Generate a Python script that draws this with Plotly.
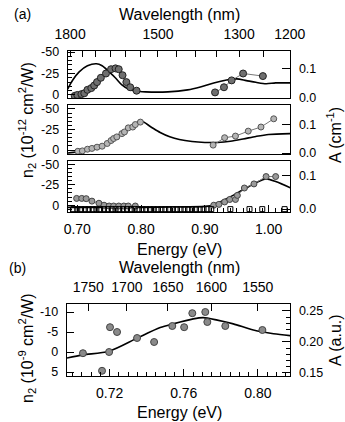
import plotly.graph_objects as go

HC = 1239.84  # eV*nm, photon energy <-> wavelength

# ---------------- panel (a), top sub-panel ----------------
p1_E = [0.696, 0.700, 0.7065, 0.711, 0.716, 0.722, 0.7265, 0.731, 0.737, 0.745, 0.753, 0.760, 0.765, 0.771, 0.777, 0.783, 0.793]
p1_n2 = [1, 0, -1, -2, -6, -8, -11, -15, -20, -25, -30, -31, -30, -23, -15, -9, -5]
p1b_E = [0.916, 0.930, 0.942, 0.960, 0.991]
p1b_n2 = [-3, -9, -17, -25, -22]
c1_E = [0.685, 0.693, 0.703, 0.716, 0.730, 0.739, 0.750, 0.760, 0.770, 0.780, 0.791, 0.807, 0.842, 0.873, 0.893, 0.914, 0.934, 0.950, 0.965, 0.980, 0.996, 1.011, 1.034]
c1_A = [0.029, 0.060, 0.088, 0.109, 0.116, 0.109, 0.088, 0.067, 0.043, 0.029, 0.022, 0.019, 0.019, 0.026, 0.036, 0.050, 0.060, 0.064, 0.058, 0.052, 0.047, 0.050, 0.050]

# ---------------- panel (a), middle sub-panel ----------------
p2_E = [0.701, 0.708, 0.716, 0.723, 0.731, 0.739, 0.747, 0.753, 0.757, 0.762, 0.770, 0.774, 0.780, 0.787, 0.791, 0.799]
p2_n2 = [1.5, 1, -1, -2, -3.5, -4.7, -8, -11.6, -14, -16, -20, -22, -27, -28, -31, -34]
p2b_E = [0.913, 0.931, 0.948, 0.968, 0.988, 1.008]
p2b_n2 = [-6, -15, -17, -23, -28, -38]
c2_E = [0.685, 0.700, 0.720, 0.740, 0.760, 0.780, 0.800, 0.815, 0.830, 0.845, 0.860, 0.880, 0.900, 0.920, 0.940, 0.960, 0.980, 1.000, 1.034]
c2_A = [0.000, 0.004, 0.016, 0.026, 0.052, 0.088, 0.112, 0.092, 0.072, 0.057, 0.047, 0.040, 0.037, 0.037, 0.041, 0.049, 0.058, 0.065, 0.068]

# ---------------- panel (a), bottom sub-panel ----------------
p3_E = [0.699, 0.707, 0.714, 0.723, 0.734, 0.742, 0.750, 0.757, 0.765, 0.773, 0.780, 0.791]
p3_n2 = [-8.3, -8.3, -8, -5, -2.4, 0, 1, 1, 1, 1, 1, 1]
p3b_E = [0.914, 0.922, 0.931, 0.939, 0.948, 0.951, 0.962, 0.977, 0.996, 1.011]
p3b_n2 = [0, -1, -4, -7, -7, -12, -21, -26, -35, -35]
c3_E = [0.685, 0.750, 0.800, 0.850, 0.900, 0.915, 0.930, 0.945, 0.960, 0.980, 0.996, 1.011, 1.034]
c3_A = [0.005, 0.005, 0.005, 0.006, 0.008, 0.013, 0.027, 0.042, 0.058, 0.079, 0.091, 0.083, 0.064]
sq_E = [0.694, 0.700, 0.706, 0.712, 0.718, 0.724, 0.730, 0.736, 0.742, 0.748, 0.754, 0.760, 0.766, 0.772,
        0.778, 0.784, 0.790, 0.796, 0.802, 0.808, 0.814, 0.820, 0.826, 0.832, 0.838, 0.844, 0.850, 0.856,
        0.862, 0.868, 0.874, 0.880, 0.886, 0.892, 0.898, 0.904, 0.910, 0.940, 0.970, 0.990, 1.025]
sq_n2 = [4.8] * len(sq_E)

# ---------------- panel (b) ----------------
pb_E = [0.7056, 0.7159, 0.7197, 0.7202, 0.7240, 0.7348, 0.7440, 0.7538, 0.7602, 0.7646, 0.7716, 0.7727, 0.7824, 0.8024]
pb_n2 = [0.3, 4.7, 0, -6.2, -5, -3.5, -2.5, -6.5, -6.2, -9.7, -10, -7.5, -6.5, -5.5]
cb_E = [0.697, 0.7056, 0.7197, 0.7348, 0.7473, 0.7543, 0.7651, 0.7705, 0.7781, 0.7867, 0.7975, 0.8084, 0.8175]
cb_A = [0.174, 0.179, 0.185, 0.206, 0.223, 0.229, 0.237, 0.239, 0.235, 0.229, 0.219, 0.213, 0.210]

# ---------------- tick labels ----------------
wl_a = [1800, 1750, 1700, 1650, 1600, 1550, 1500, 1450, 1400, 1350, 1300, 1250, 1200]
wl_a_text = ['1800', '', '', '', '', '', '1500', '', '', '', '1300', '', '1200']
wl_b = [1750, 1700, 1650, 1600, 1550]
wl_b_text = ['1750', '1700', '1650', '1600', '1550']
e_a_ticks = [0.70, 0.80, 0.90, 1.00]
e_a_text = ['0.70', '0.80', '0.90', '1.00']
e_b_ticks = [0.72, 0.76, 0.80]
e_b_text = ['0.72', '0.76', '0.80']
n2_a_ticks = [-50, -25, 0]
n2_a_text = ['-50', '-25', '0']
A_a_ticks = [0.0, 0.1]
A_a_text = ['0.0', '0.1']
n2_b_ticks = [-10, -5, 0, 5]
n2_b_text = ['-10', '-5', '0', '5']
A_b_ticks = [0.15, 0.20, 0.25]
A_b_text = ['0.15', '0.20', '0.25']

W, H = 345, 422
FONT = "Liberation Sans, Arial, sans-serif"
TICKF = dict(family=FONT, size=14, color="black")
TICKF_Y = dict(family=FONT, size=12.5, color="black")
LW = 1.4


def px_x(a, b):
    return [a / W, b / W]


def px_y(top, bottom):
    return [1 - bottom / H, 1 - top / H]


XA = px_x(68, 290)
XB = px_x(67, 290)
D1 = px_y(51, 98)
D2 = px_y(105, 154)
D3 = px_y(161, 212)
DB = px_y(304, 376)
XR_A = [0.6855, 1.0335]
XR_B = [0.697, 0.8173]

fig = go.Figure()

pt_dark = dict(symbol="circle", size=7, color="#6f6f6f", line=dict(color="#222", width=1))
pt_mid = dict(symbol="circle", size=6, color="#9a9a9a", line=dict(color="#444", width=1))
pt_light = dict(symbol="circle", size=6, color="#b5b5b5", line=dict(color="#555", width=1))
conn = dict(color="#777", width=1)
curve = dict(color="black", width=1.6, shape="spline", smoothing=0.8)


def add_pts(E, n, xa, ya, mk, mode="lines+markers"):
    fig.add_trace(go.Scatter(x=E, y=n, xaxis=xa, yaxis=ya, mode=mode, marker=mk,
                             line=conn, showlegend=False, hoverinfo="skip"))


def add_curve(E, A, xa, ya):
    fig.add_trace(go.Scatter(x=E, y=A, xaxis=xa, yaxis=ya, mode="lines", line=curve,
                             showlegend=False, hoverinfo="skip"))


def add_ghost(E, A, xa, ya):
    # invisible trace so that the secondary (wavelength) axis is drawn
    fig.add_trace(go.Scatter(x=E, y=A, xaxis=xa, yaxis=ya, mode="lines",
                             line=dict(width=0, color="rgba(0,0,0,0)"),
                             showlegend=False, hoverinfo="skip"))


# panel 1 (A on y, n2 on y2)
add_curve(c1_E, c1_A, "x", "y")
add_pts(p1_E, p1_n2, "x", "y2", pt_dark)
add_pts(p1b_E, p1b_n2, "x", "y2", pt_dark)
add_ghost(c1_E, c1_A, "x4", "y")
# panel 2
add_curve(c2_E, c2_A, "x2", "y3")
add_pts(p2_E, p2_n2, "x2", "y4", pt_light)
add_pts(p2b_E, p2b_n2, "x2", "y4", pt_light)
# panel 3
add_curve(c3_E, c3_A, "x3", "y5")
add_pts(p3_E, p3_n2, "x3", "y6", pt_mid)
add_pts(p3b_E, p3b_n2, "x3", "y6", pt_mid)
fig.add_trace(go.Scatter(x=sq_E, y=sq_n2, xaxis="x3", yaxis="y6", mode="markers",
                         marker=dict(symbol="square-open", size=5, color="black", line=dict(width=1)),
                         showlegend=False, hoverinfo="skip"))
# panel b
add_curve(cb_E, cb_A, "x5", "y7")
add_pts(pb_E, pb_n2, "x5", "y8", dict(symbol="circle", size=7, color="#8a8a8a",
                                     line=dict(color="#444", width=1)), mode="markers")
add_ghost(cb_E, cb_A, "x6", "y7")

common = dict(showgrid=False, zeroline=False, showline=True, linecolor="black", linewidth=LW,
              tickcolor="black", tickfont=TICKF, automargin=False)


def xaxis(domain, rng, anchor, labels=False, tv=None, tt=None, minor=None, mirror=True, ticklen=7):
    d = dict(common, domain=domain, range=rng, anchor=anchor, mirror=mirror)
    if labels:
        d.update(tickmode="array", tickvals=tv, ticktext=tt, ticks="inside", ticklen=ticklen,
                 showticklabels=True, ticklabelstandoff=4)
        if minor:
            d["minor"] = minor
    else:
        d.update(ticks="", showticklabels=False)
    return d


def topaxis(over, rng, anchor, wl, wltext, ticklen=6):
    return dict(common, overlaying=over, side="top", range=rng, anchor=anchor,
                tickmode="array", tickvals=[HC / w for w in wl], ticktext=wltext,
                ticks="inside", ticklen=ticklen, ticklabelstandoff=5, showticklabels=True)


def rightA(domain, rng, anchor, tv, tt, minor=None, ticklen=8):
    d = dict(common, domain=domain, range=rng, anchor=anchor, side="right",
             tickmode="array", tickvals=tv, ticktext=tt, ticks="inside", ticklen=ticklen,
             ticklabelstandoff=5, tickfont=TICKF_Y)
    if minor:
        d["minor"] = minor
    return d


def leftN(over, rng, anchor, tv, tt, minor=None, ticklen=7):
    d = dict(common, overlaying=over, range=rng, anchor=anchor, side="left",
             tickmode="array", tickvals=tv, ticktext=tt, ticks="inside", ticklen=ticklen,
             ticklabelstandoff=5, tickfont=TICKF_Y)
    if minor:
        d["minor"] = minor
    return d


n2minor = dict(dtick=5, tick0=0, ticklen=4, ticks="inside", tickcolor="black")

fig.update_layout(
    width=W, height=H, autosize=False,
    margin=dict(l=0, r=0, t=0, b=0, pad=0, autoexpand=False),
    paper_bgcolor="white", plot_bgcolor="white",
    font=dict(family=FONT, color="black"),
    xaxis=xaxis(XA, XR_A, "y"),
    xaxis2=xaxis(XA, XR_A, "y3"),
    xaxis3=xaxis(XA, XR_A, "y5", labels=True, tv=e_a_ticks, tt=e_a_text,
                 minor=dict(dtick=0.01, tick0=0.7, ticklen=4, ticks="inside", tickcolor="black")),
    xaxis4=topaxis("x", XR_A, "y", wl_a, wl_a_text),
    xaxis5=xaxis(XB, XR_B, "y7", labels=True, tv=e_b_ticks, tt=e_b_text,
                 minor=dict(dtick=0.005, tick0=0.72, ticklen=4, ticks="inside", tickcolor="black")),
    xaxis6=topaxis("x5", XR_B, "y7", wl_b, wl_b_text, ticklen=7),
    yaxis=rightA(D1, [-0.002, 0.160], "x", A_a_ticks, A_a_text),
    yaxis2=leftN("y", [3.5, -51.2], "x", n2_a_ticks, n2_a_text, minor=n2minor),
    yaxis3=rightA(D2, [-0.0035, 0.168], "x2", A_a_ticks, A_a_text),
    yaxis4=leftN("y3", [4.8, -54.8], "x2", n2_a_ticks, n2_a_text, minor=n2minor),
    yaxis5=rightA(D3, [-0.009, 0.145], "x3", A_a_ticks, A_a_text),
    yaxis6=leftN("y5", [8.3, -54.0], "x3", n2_a_ticks, n2_a_text, minor=n2minor),
    yaxis7=rightA(DB, [0.145, 0.261], "x5", A_b_ticks, A_b_text,
                  minor=dict(dtick=0.01, tick0=0.15, ticklen=4, ticks="inside", tickcolor="black")),
    yaxis8=leftN("y7", [6, -12], "x5", n2_b_ticks, n2_b_text),
)


def ann(text, x, y, angle=0, size=16, xanchor="center"):
    fig.add_annotation(text=text, x=x / W, y=1 - y / H, xref="paper", yref="paper",
                       showarrow=False, textangle=angle, xanchor=xanchor, yanchor="middle",
                       font=dict(family=FONT, size=size, color="black"))


ann("(a)", 22, 14, size=14)
ann("Wavelength (nm)", 179, 14)
ann("Energy (eV)", 179, 249)
ann("(b)", 17, 268, size=14)
ann("Wavelength (nm)", 179, 267)
ann("Energy (eV)", 179, 412)
ann("n<sub>2</sub> (10<sup>-12</sup> cm<sup>2</sup>/W)", 27, 120, angle=-90)
ann("n<sub>2</sub> (10<sup>-9</sup> cm<sup>2</sup>/W)", 27, 348, angle=-90)
ann("A (cm<sup>-1</sup>)", 334, 135, angle=-90)
ann("A (a.u.)", 335, 340, angle=-90)

fig.write_html("out.html", config={"displayModeBar": False, "staticPlot": True},
               post_script="document.body.style.margin='0px';document.body.style.padding='0px';"
                           "document.body.style.overflow='hidden';")
